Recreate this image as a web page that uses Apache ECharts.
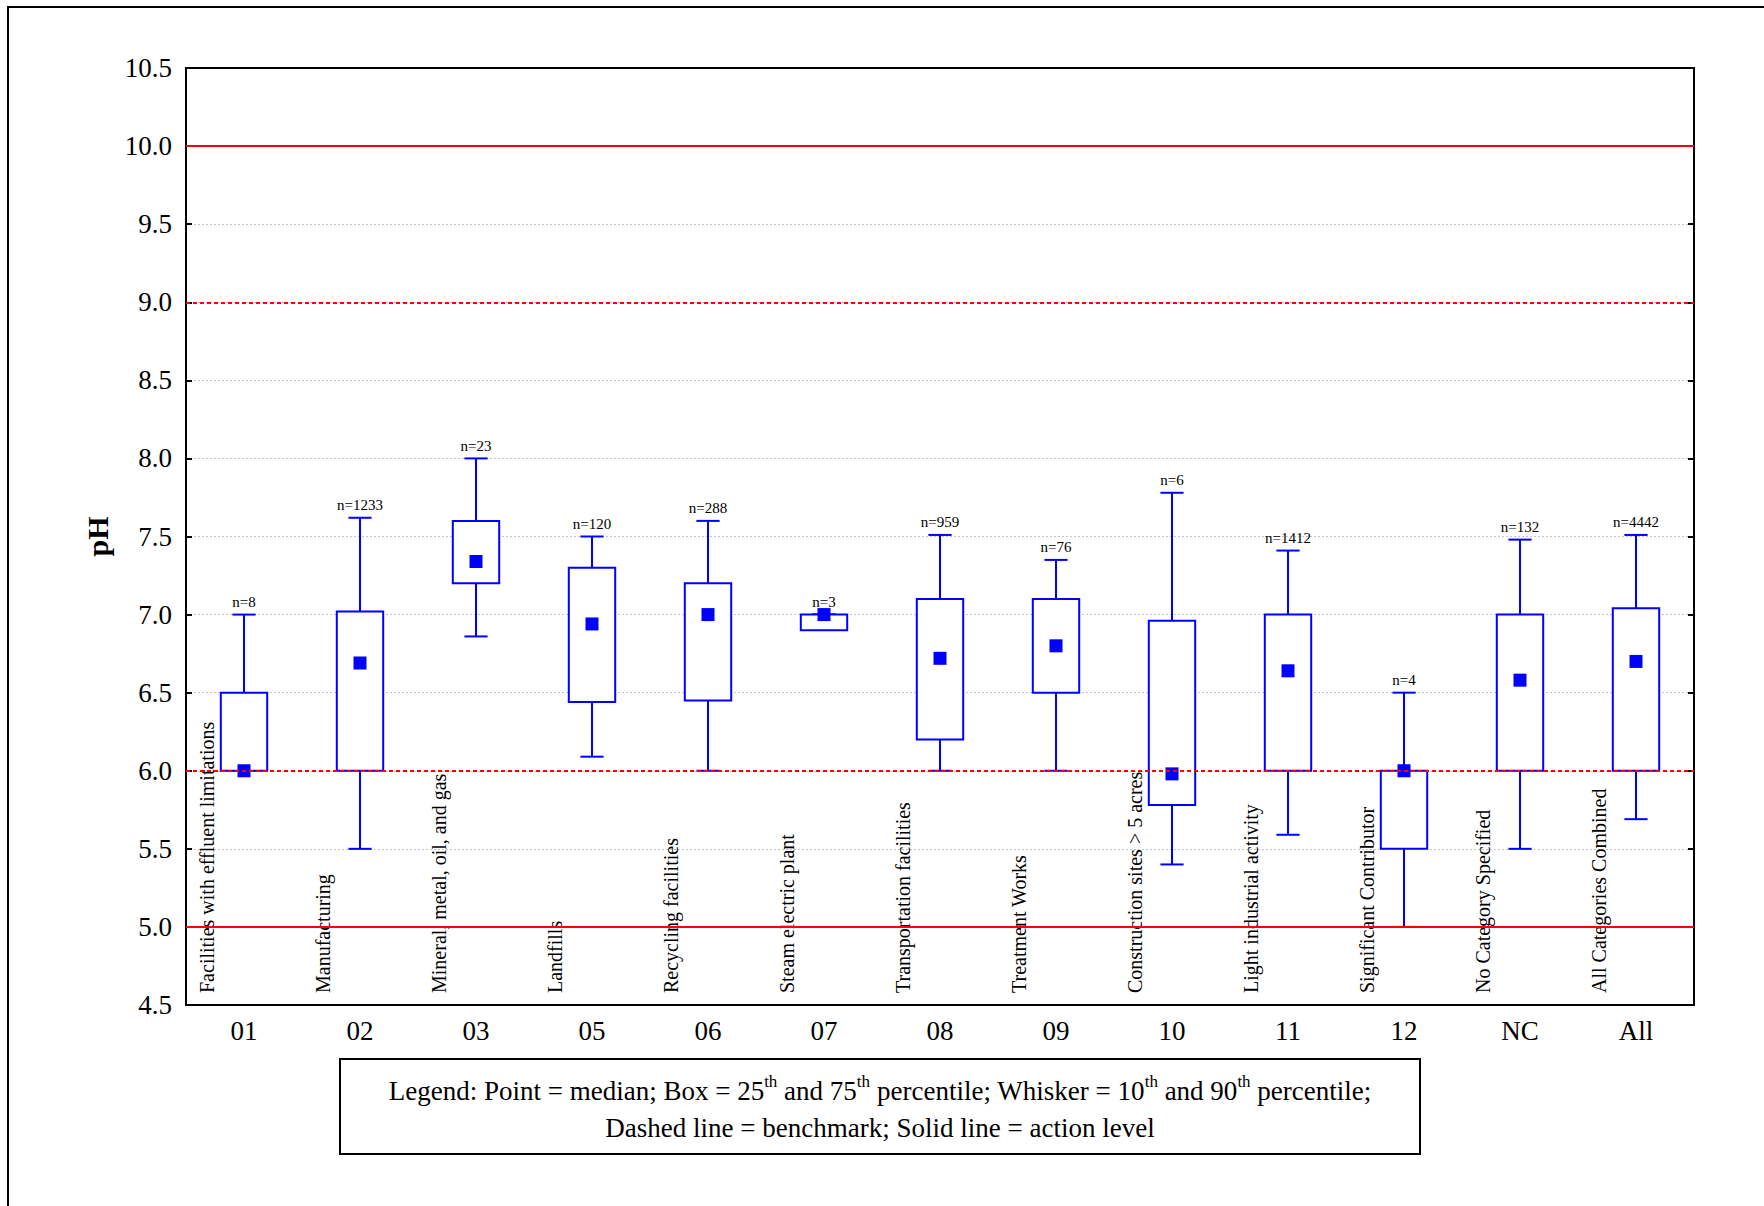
<!DOCTYPE html>
<html>
<head>
<meta charset="utf-8">
<script src="https://cdn.jsdelivr.net/npm/echarts@6/dist/echarts.min.js"></script>
<style>
html,body{margin:0;padding:0;background:#fff;}
#chart{width:1764px;height:1206px;}
</style>
</head>
<body>
<div id="chart"></div>
<script>
// ---- data ----
var codes = ['01','02','03','05','06','07','08','09','10','11','12','NC','All'];
var names = ['Facilities with effluent limitations','Manufacturing','Mineral, metal, oil, and gas','Landfills','Recycling facilities','Steam electric plant','Transportation facilities','Treatment Works','Construction sites > 5 acres','Light industrial activity','Significant Contributor','No Category Specified','All Categories Combined'];
var counts = [8,1233,23,120,288,3,959,76,6,1412,4,132,4442];
var p10    = [6.00,5.50,6.86,6.09,6.00,7.00,6.00,6.00,5.40,5.59,5.00,5.50,5.69];
var p25    = [6.00,6.00,7.20,6.44,6.45,6.90,6.20,6.50,5.78,6.00,5.50,6.00,6.00];
var medians= [6.00,6.69,7.34,6.94,7.00,7.00,6.72,6.80,5.98,6.64,6.00,6.58,6.70];
var p75    = [6.50,7.02,7.60,7.30,7.20,7.00,7.10,7.10,6.96,7.00,6.00,7.00,7.04];
var p90    = [7.00,7.62,8.00,7.50,7.60,7.00,7.51,7.35,7.78,7.41,6.50,7.48,7.51];
var actionLevels = [5.0, 10.0];
var benchmarks = [6.0, 9.0];
var yTicks = ['4.5','5.0','5.5','6.0','6.5','7.0','7.5','8.0','8.5','9.0','9.5','10.0','10.5'];

var boxData = codes.map(function(c,i){ return [i, p10[i], p25[i], p75[i], p90[i], counts[i]]; });
var medData = codes.map(function(c,i){ return [i, medians[i]]; });

var FONT = '"Liberation Serif","Times New Roman",serif';
var BLUE = '#0000ff';
var RED = '#ff0000';
var chart = echarts.init(document.getElementById('chart'), null, {renderer:'svg'});

var markLines = [];
actionLevels.forEach(function(v){ markLines.push({yAxis:v, lineStyle:{type:'solid', color:RED, width:2}}); });
benchmarks.forEach(function(v){ markLines.push({yAxis:v, lineStyle:{type:[4,3], color:RED, width:2}}); });

var option = {
  backgroundColor:'#fff',
  animation:false,
  grid:{left:186, right:70, top:68, bottom:201},
  xAxis:[{
    type:'category', data:codes, position:'bottom',
    axisLine:{lineStyle:{color:'#000', width:2}},
    axisTick:{inside:true, alignWithLabel:true, length:6, lineStyle:{color:'#000', width:2}},
    axisLabel:{fontFamily:FONT, fontSize:27, color:'#000', margin:12},
    splitLine:{show:false}
  },{
    type:'category', data:codes, position:'top',
    axisLine:{lineStyle:{color:'#000', width:2}},
    axisTick:{inside:true, alignWithLabel:true, length:6, lineStyle:{color:'#000', width:2}},
    axisLabel:{show:false}
  }],
  yAxis:[{
    type:'value', min:4.5, max:10.5, interval:0.5,
    name:'pH', nameLocation:'middle', nameGap:74, nameRotate:90,
    nameTextStyle:{fontFamily:FONT, fontSize:30, fontWeight:'bold', color:'#000'},
    axisLine:{show:true, lineStyle:{color:'#000', width:2}},
    axisTick:{show:true, inside:true, length:6, lineStyle:{color:'#000', width:2}},
    axisLabel:{fontFamily:FONT, fontSize:27, color:'#000', margin:14,
      formatter:function(v){ return yTicks[Math.round((v-4.5)/0.5)]; }},
    splitLine:{show:true, lineStyle:{color:'#c4c4c4', type:[2,2], width:1}}
  },{
    type:'value', min:4.5, max:10.5, interval:0.5, position:'right',
    axisLine:{show:true, lineStyle:{color:'#000', width:2}},
    axisTick:{show:true, inside:true, length:6, lineStyle:{color:'#000', width:2}},
    axisLabel:{show:false}, splitLine:{show:false}
  }],
  series:[{
    type:'custom', z:2, data:boxData,
    renderItem:function(params, api){
      var idx = api.value(0);
      var lo = api.value(1), q1 = api.value(2), q3 = api.value(3), hi = api.value(4);
      var n = api.value(5);
      var nm = names[idx];
      var x = api.coord([idx, q1])[0];
      var band = api.size([1,0])[0];
      var bw = band*0.4, cw = band*0.2;
      var yLo = api.coord([idx, lo])[1], yQ1 = api.coord([idx, q1])[1];
      var yQ3 = api.coord([idx, q3])[1], yHi = api.coord([idx, hi])[1];
      var yBottom = api.coord([idx, 4.5])[1];
      var st = {stroke:BLUE, lineWidth:2, fill:null};
      return {type:'group', children:[
        {type:'line', shape:{x1:x,y1:yQ3,x2:x,y2:yHi}, style:st},
        {type:'line', shape:{x1:x-cw/2,y1:yHi,x2:x+cw/2,y2:yHi}, style:st},
        {type:'line', shape:{x1:x,y1:yQ1,x2:x,y2:yLo}, style:st},
        {type:'line', shape:{x1:x-cw/2,y1:yLo,x2:x+cw/2,y2:yLo}, style:st},
        {type:'rect', shape:{x:x-bw/2, y:yQ3, width:bw, height:yQ1-yQ3}, style:{stroke:BLUE, lineWidth:2, fill:'#fff'}},
        {type:'text', style:{text:'n='+n, x:x, y:yHi-5, textAlign:'center', textVerticalAlign:'bottom', font:'15px '+FONT, fill:'#000'}},
        {type:'text', x:x-37, y:yBottom-12, rotation:Math.PI/2, style:{text:nm, x:0, y:0, textAlign:'left', textVerticalAlign:'middle', font:'20px '+FONT, fill:'#000'}}
      ]};
    }
  },{
    type:'scatter', z:4, data:medData, symbol:'rect', symbolSize:13,
    itemStyle:{color:BLUE, opacity:1}, silent:true
  },{
    type:'line', z:3, data:[], silent:true,
    markLine:{silent:true, symbol:['none','none'], label:{show:false}, data:markLines}
  }],
  graphic:[
    {type:'rect', shape:{x:8, y:7, width:1800, height:1300}, style:{stroke:'#000', lineWidth:2, fill:null}, z:0, silent:true},
    {type:'rect', shape:{x:340, y:1059, width:1080, height:95}, style:{stroke:'#000', lineWidth:2, fill:'#fff'}, silent:true},
    {type:'text', x:880, y:1091, style:{
      text:'{n|Legend: Point = median; Box = 25}{s|th}{n| and 75}{s|th}{n| percentile; Whisker = 10}{s|th}{n| and 90}{s|th}{n| percentile;}',
      textAlign:'center', textVerticalAlign:'middle', fill:'#000',
      rich:{n:{fontFamily:FONT, fontSize:27, lineHeight:36, verticalAlign:'middle', fill:'#000'},
            s:{fontFamily:FONT, fontSize:17, lineHeight:22, verticalAlign:'top', fill:'#000'}}
    }, silent:true},
    {type:'text', x:880, y:1128, style:{
      text:'Dashed line = benchmark; Solid line = action level',
      textAlign:'center', textVerticalAlign:'middle', font:'27px '+FONT, fill:'#000'}, silent:true}
  ]
};
chart.setOption(option);
</script>
</body>
</html>
